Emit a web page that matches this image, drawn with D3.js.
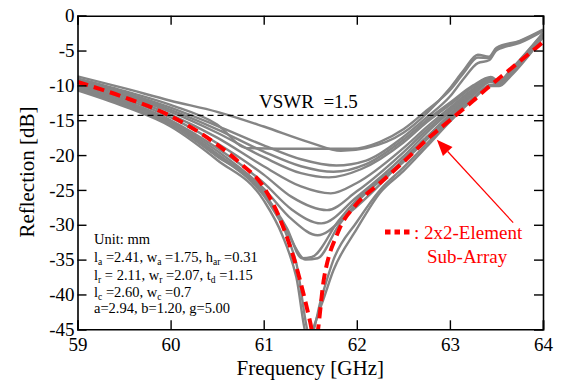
<html>
<head>
<script src="https://d3js.org/d3.v7.min.js"></script>
<style>
  body { margin: 0; background: #fff; }
</style>
</head>
<body>
<svg id="chart" width="562" height="381" font-family="'Liberation Serif', 'Times New Roman', 'DejaVu Serif', serif"></svg>
<script>
// frequency [GHz], reflection [dB]
var subArray = [[59,-9.5],[59.5,-11.7],[60,-14.4],[60.5,-18.5],[60.75,-21.2],[61,-24.6],[61.2,-30],[61.35,-36],[61.5,-44],[61.55,-47],[61.65,-37.5],[61.8,-31],[62,-27],[62.25,-24],[62.5,-21],[62.75,-17.8],[63,-15],[63.25,-12.2],[63.4,-10.4],[63.5,-9.3],[63.6,-8.2],[63.8,-6],[64,-3.8]];

var gray1 = [[59,-8.7],[59.5,-10.4],[60,-12.2],[60.5,-13.8],[61,-15.9],[61.5,-18.2],[61.83,-19.4],[62.1,-19.0],[62.5,-16.8],[62.75,-14.0],[63,-10.4],[63.15,-7.8],[63.3,-5.6],[63.42,-5.9],[63.5,-4.6],[63.75,-3.6],[64,-2.0]];
var gray2 = [[59,-9.0],[59.5,-10.8],[60,-12.8],[60.5,-15.6],[60.82,-19.0],[61.4,-19.1],[61.95,-19.1],[62.25,-18.1],[62.5,-16.3],[62.75,-13.6],[63,-10.7],[63.15,-8.2],[63.3,-6.0],[63.42,-6.1],[63.5,-4.8],[63.75,-3.7],[64,-2.1]];
var gray3 = [[59,-9.2],[59.5,-11.0],[60,-13.2],[60.5,-15.8],[61,-18.6],[61.4,-20.6],[61.78,-21.5],[62.1,-20.8],[62.5,-17.4],[62.75,-14.6],[63,-11.6],[63.15,-9.0],[63.3,-6.8],[63.42,-6.4],[63.5,-5.0],[63.75,-3.9],[64,-2.2]];
var gray4 = [[59,-9.3],[59.5,-11.2],[60,-13.5],[60.5,-16.3],[61,-19.5],[61.4,-21.6],[61.75,-22.4],[62.1,-21.3],[62.5,-17.8],[62.75,-15.0],[63,-12.5],[63.25,-10.0],[63.44,-8.8],[63.53,-9.4],[63.65,-7.8],[64,-2.5]];
var gray5 = [[59,-9.4],[59.5,-11.4],[60,-13.8],[60.5,-16.8],[61,-20.3],[61.4,-22.6],[61.7,-23.2],[62.05,-22.0],[62.5,-18.2],[62.75,-15.3],[63,-12.8],[63.25,-10.2],[63.44,-8.9],[63.53,-9.5],[63.65,-7.9],[64,-2.6]];
var gray6 = [[59,-9.6],[59.5,-11.6],[60,-14.2],[60.5,-17.5],[61,-21.6],[61.4,-24.5],[61.72,-25.5],[62,-24.0],[62.5,-19.0],[62.75,-16.0],[63,-13.2],[63.25,-10.5],[63.44,-9.0],[63.53,-9.6],[63.65,-8.0],[64,-2.6]];
var gray7 = [[59,-9.8],[59.5,-11.9],[60,-14.6],[60.5,-18.3],[61,-22.8],[61.3,-26.0],[61.68,-27.9],[62,-25.2],[62.5,-19.6],[62.75,-16.4],[63,-13.5],[63.25,-10.7],[63.44,-9.1],[63.53,-9.6],[63.65,-8.0],[64,-2.7]];
var gray8 = [[59,-10.0],[59.5,-12.2],[60,-15.0],[60.5,-19.0],[61,-24.0],[61.3,-27.8],[61.62,-29.8],[62,-26.0],[62.5,-20.2],[62.75,-16.8],[63,-13.8],[63.25,-10.9],[63.44,-9.2],[63.53,-9.7],[63.65,-8.1],[64,-2.7]];
var gray9 = [[59,-10.1],[59.5,-12.3],[60,-15.2],[60.5,-19.4],[61,-24.8],[61.3,-29.2],[61.58,-31.5],[61.9,-28.5],[62.25,-24.2],[62.5,-20.6],[62.75,-17.4],[63,-14.2],[63.25,-11.1],[63.44,-9.3],[63.53,-9.7],[63.65,-8.1],[64,-2.8]];
var gray10 = [[59,-10.2],[59.5,-12.5],[60,-15.4],[60.5,-19.8],[61,-25.5],[61.25,-30.5],[61.41,-34.8],[61.52,-34.6],[61.8,-29.5],[62,-26.4],[62.5,-20.8],[62.75,-17.6],[63,-14.4],[63.25,-11.3],[63.44,-9.4],[63.53,-9.8],[63.65,-8.2],[64,-2.8]];
var gray11 = [[59,-10.3],[59.5,-12.6],[60,-15.5],[60.5,-20.0],[61,-25.8],[61.25,-31.0],[61.45,-35.0],[61.58,-34.8],[61.8,-30.2],[62,-26.8],[62.5,-21.0],[62.75,-17.8],[63,-14.6],[63.25,-11.4],[63.44,-9.5],[63.53,-9.9],[63.65,-8.3],[64,-2.9]];
var gray12 = [[59,-10.5],[59.5,-12.8],[60,-15.6],[60.5,-20.2],[61,-25.3],[61.2,-30.0],[61.35,-35.5],[61.5,-46],[61.62,-40.5],[61.75,-35.0],[62,-29.6],[62.25,-25.0],[62.5,-21.8],[62.75,-18.4],[63,-14.9],[63.25,-11.8],[63.44,-9.9],[63.53,-10.0],[63.65,-8.5],[64,-3.0]];
var gray13 = [[59,-10.7],[59.5,-13.0],[60,-15.9],[60.5,-20.7],[61,-26.5],[61.2,-31.5],[61.35,-37.5],[61.47,-46],[61.62,-41.5],[61.75,-36.5],[62,-30.6],[62.25,-25.4],[62.5,-22.3],[62.75,-18.8],[63,-15.2],[63.25,-12.0],[63.44,-10.1],[63.53,-10.1],[63.65,-8.7],[64,-3.1]];
var grayCurves = [gray1, gray2, gray3, gray4, gray5, gray6, gray7, gray8, gray9, gray10, gray11, gray12, gray13];

var xTicks = [59, 60, 61, 62, 63, 64];
var yTicks = [0, -5, -10, -15, -20, -25, -30, -35, -40, -45];
var vswrLevel = -14.3;
var arrowTip = [62.86, -17.8], arrowTail = [63.68, -29.7];

var serif = "'Liberation Serif', 'Times New Roman', 'DejaVu Serif', serif";
var plotL = 77.5, plotR = 543, plotT = 15.7, plotB = 329.3;
var svg = d3.select("#chart");
var x = d3.scaleLinear().domain([59, 64]).range([plotL, plotR]);
var y = d3.scaleLinear().domain([-45, 0]).range([plotB, plotT]);

svg.append("clipPath").attr("id", "plot")
    .append("rect").attr("x", plotL).attr("y", plotT)
    .attr("width", plotR - plotL).attr("height", plotB - plotT);

var line = d3.line()
    .x(function (d) { return x(d[0]); })
    .y(function (d) { return y(d[1]); })
    .curve(d3.curveMonotoneX);

var curves = svg.append("g").attr("clip-path", "url(#plot)");
curves.selectAll("path.gray")
    .data(grayCurves)
    .enter()
    .append("path")
    .attr("class", "gray")
    .attr("d", line)
    .attr("fill", "none")
    .attr("stroke", "#858585")
    .attr("stroke-width", 2.4);

curves.append("line")
    .attr("x1", plotL).attr("x2", plotR)
    .attr("y1", y(vswrLevel)).attr("y2", y(vswrLevel))
    .attr("stroke", "#000").attr("stroke-width", 1.3)
    .attr("stroke-dasharray", "6,4");

curves.append("path")
    .attr("d", line(subArray))
    .attr("fill", "none")
    .attr("stroke", "#ff0000")
    .attr("stroke-width", 4)
    .attr("stroke-dasharray", "11,6");

// axes, ticks inside
var fmt = function (d) { return String(d); };
var axes = svg.append("g");
axes.append("g").attr("transform", "translate(0," + plotB + ")")
    .call(d3.axisBottom(x).tickValues(xTicks).tickSize(-9).tickPadding(8).tickFormat(fmt));
axes.append("g").attr("transform", "translate(0," + plotT + ")")
    .call(d3.axisTop(x).tickValues(xTicks).tickSize(-9).tickFormat(""));
axes.append("g").attr("transform", "translate(" + plotL + ",0)")
    .call(d3.axisLeft(y).tickValues(yTicks).tickSize(-9).tickPadding(3).tickFormat(fmt));
axes.append("g").attr("transform", "translate(" + plotR + ",0)")
    .call(d3.axisRight(y).tickValues(yTicks).tickSize(-9).tickFormat(""));

axes.selectAll("g").attr("font-family", serif).attr("font-size", 19);
axes.selectAll(".domain").attr("stroke", "#000").attr("stroke-width", 1.6);
axes.selectAll(".tick line").attr("stroke", "#000").attr("stroke-width", 1.4);
axes.selectAll(".tick text").attr("fill", "#000");

// axis titles
svg.append("text")
    .attr("x", (plotL + plotR) / 2).attr("y", 375)
    .attr("text-anchor", "middle")
    .attr("font-size", 21)
    .text("Frequency [GHz]");
svg.append("text")
    .attr("transform", "translate(34," + 172 + ") rotate(-90)")
    .attr("text-anchor", "middle")
    .attr("font-size", 21)
    .text("Reflection [dB]");

// VSWR label
svg.append("text")
    .attr("x", 259).attr("y", y(vswrLevel) - 7)
    .attr("font-size", 19)
    .attr("xml:space", "preserve")
    .text("VSWR  =1.5");

// design parameters
var note = svg.append("g").attr("font-size", 14.5).attr("fill", "#000");
var noteLines = [
    [["Unit: mm", ""]],
    [["l", "a"], [" =2.41, w", "a"], [" =1.75, h", "ar"], [" =0.31", ""]],
    [["l", "r"], [" = 2.11, w", "r"], [" =2.07, t", "d"], [" =1.15", ""]],
    [["l", "c"], [" =2.60, w", "c"], [" =0.7", ""]],
    [["a=2.94, b=1.20, g=5.00", ""]]
];
var noteY = [244, 262, 280, 297, 313];
noteLines.forEach(function (parts, i) {
    var t = note.append("text").attr("x", 94).attr("y", noteY[i]).attr("xml:space", "preserve");
    parts.forEach(function (p) {
        t.append("tspan").attr("y", noteY[i]).text(p[0]);
        if (p[1]) {
            t.append("tspan").attr("y", noteY[i] + 2.5).attr("font-size", 9.5).text(p[1]);
        }
    });
});

// legend
svg.append("line")
    .attr("x1", 385).attr("x2", 412).attr("y1", 232).attr("y2", 232)
    .attr("stroke", "#ff0000").attr("stroke-width", 5)
    .attr("stroke-dasharray", "5.5,4");
svg.append("text").attr("x", 414).attr("y", 239)
    .attr("fill", "#ff0000").attr("font-size", 19)
    .text(": 2x2-Element");
svg.append("text").attr("x", 427).attr("y", 263)
    .attr("fill", "#ff0000").attr("font-size", 19)
    .text("Sub-Array");

// arrow
var tx = x(arrowTip[0]), ty = y(arrowTip[1]);
var sx = x(arrowTail[0]), sy = y(arrowTail[1]);
var ang = Math.atan2(ty - sy, tx - sx);
var hl = 16, hw = 6.5;
var bx = tx - hl * Math.cos(ang), by = ty - hl * Math.sin(ang);
svg.append("line")
    .attr("x1", sx).attr("y1", sy).attr("x2", bx).attr("y2", by)
    .attr("stroke", "#ff0000").attr("stroke-width", 1.2);
svg.append("polygon")
    .attr("points", [
        [tx, ty],
        [bx + hw * Math.sin(ang), by - hw * Math.cos(ang)],
        [bx - hw * Math.sin(ang), by + hw * Math.cos(ang)]
    ].map(function (p) { return p.join(","); }).join(" "))
    .attr("fill", "#ff0000");
</script>
</body>
</html>
